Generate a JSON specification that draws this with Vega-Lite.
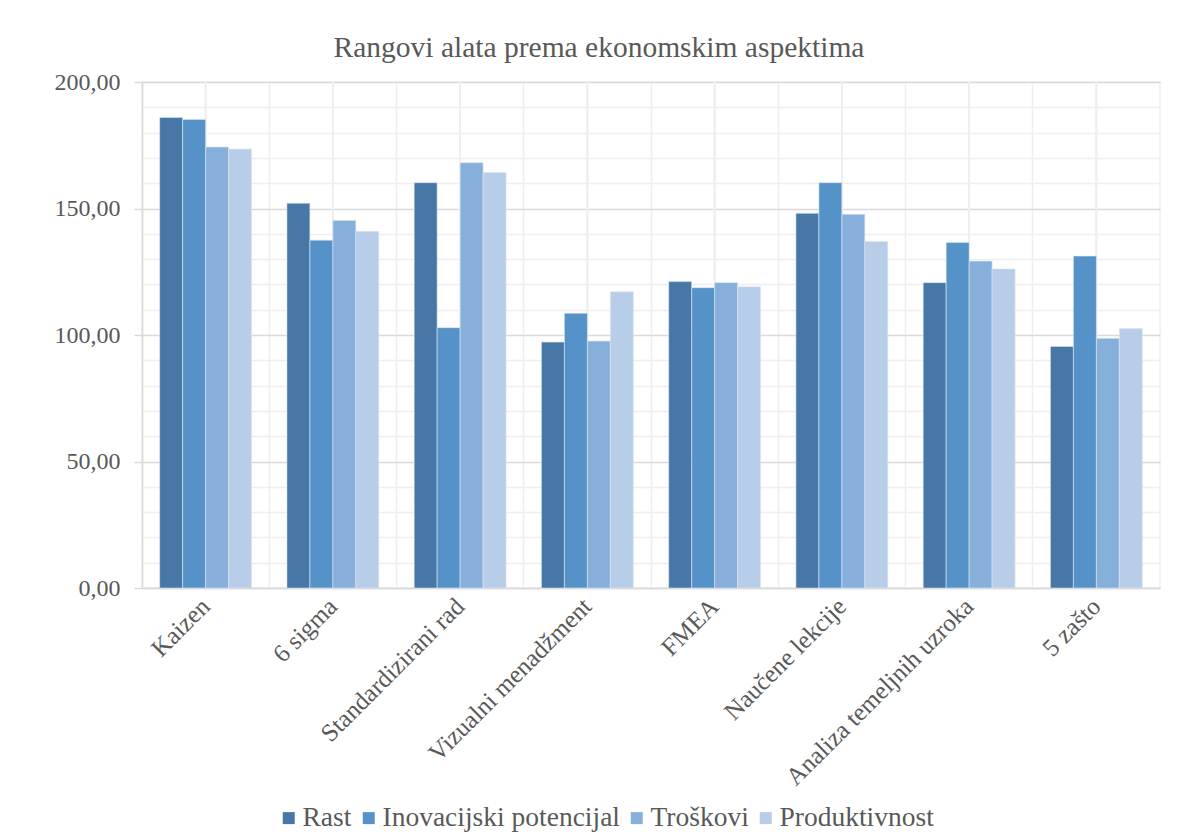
{
  "$schema": "https://vega.github.io/schema/vega-lite/v6.json",
  "width": 1018,
  "height": 506,
  "autosize": {"type": "none"},
  "padding": {"left": 142, "top": 82, "right": 19, "bottom": 251},
  "background": "white",
  "title": {
    "text": "Rangovi alata prema ekonomskim aspektima",
    "font": "Liberation Serif",
    "fontSize": 29.5,
    "fontWeight": "normal",
    "color": "#595959",
    "anchor": "middle",
    "dx": -52,
    "offset": 7
  },
  "data": {
    "values": [
      {"alat": "Kaizen", "aspekt": "Rast", "v": 186.0},
      {"alat": "Kaizen", "aspekt": "Inovacijski potencijal", "v": 185.2},
      {"alat": "Kaizen", "aspekt": "Troškovi", "v": 174.3},
      {"alat": "Kaizen", "aspekt": "Produktivnost", "v": 173.5},
      {"alat": "6 sigma", "aspekt": "Rast", "v": 152.1},
      {"alat": "6 sigma", "aspekt": "Inovacijski potencijal", "v": 137.5},
      {"alat": "6 sigma", "aspekt": "Troškovi", "v": 145.3},
      {"alat": "6 sigma", "aspekt": "Produktivnost", "v": 141.0},
      {"alat": "Standardizirani rad", "aspekt": "Rast", "v": 160.2},
      {"alat": "Standardizirani rad", "aspekt": "Inovacijski potencijal", "v": 102.9},
      {"alat": "Standardizirani rad", "aspekt": "Troškovi", "v": 168.1},
      {"alat": "Standardizirani rad", "aspekt": "Produktivnost", "v": 164.2},
      {"alat": "Vizualni menadžment", "aspekt": "Rast", "v": 97.2},
      {"alat": "Vizualni menadžment", "aspekt": "Inovacijski potencijal", "v": 108.6},
      {"alat": "Vizualni menadžment", "aspekt": "Troškovi", "v": 97.6},
      {"alat": "Vizualni menadžment", "aspekt": "Produktivnost", "v": 117.1},
      {"alat": "FMEA", "aspekt": "Rast", "v": 121.1},
      {"alat": "FMEA", "aspekt": "Inovacijski potencijal", "v": 118.7},
      {"alat": "FMEA", "aspekt": "Troškovi", "v": 120.7},
      {"alat": "FMEA", "aspekt": "Produktivnost", "v": 119.1},
      {"alat": "Naučene lekcije", "aspekt": "Rast", "v": 148.1},
      {"alat": "Naučene lekcije", "aspekt": "Inovacijski potencijal", "v": 160.2},
      {"alat": "Naučene lekcije", "aspekt": "Troškovi", "v": 147.7},
      {"alat": "Naučene lekcije", "aspekt": "Produktivnost", "v": 137.0},
      {"alat": "Analiza temeljnih uzroka", "aspekt": "Rast", "v": 120.7},
      {"alat": "Analiza temeljnih uzroka", "aspekt": "Inovacijski potencijal", "v": 136.6},
      {"alat": "Analiza temeljnih uzroka", "aspekt": "Troškovi", "v": 129.2},
      {"alat": "Analiza temeljnih uzroka", "aspekt": "Produktivnost", "v": 126.1},
      {"alat": "5 zašto", "aspekt": "Rast", "v": 95.5},
      {"alat": "5 zašto", "aspekt": "Inovacijski potencijal", "v": 131.2},
      {"alat": "5 zašto", "aspekt": "Troškovi", "v": 98.7},
      {"alat": "5 zašto", "aspekt": "Produktivnost", "v": 102.6}
    ]
  },
  "layer": [
    {
      "mark": {"type": "rule", "color": "#efefef", "strokeWidth": 1.5},
      "encoding": {
        "x": {"field": "alat", "type": "nominal", "sort": null}
      }
    },
    {
      "mark": {"type": "bar", "stroke": "#dce6f2", "strokeWidth": 0.6},
      "encoding": {
        "x": {
          "field": "alat",
          "type": "nominal",
          "sort": null,
          "scale": {"paddingInner": 0, "paddingOuter": 0},
          "axis": {
            "title": null,
            "labelAngle": -45,
            "labelAlign": "right",
            "labelBaseline": "middle",
            "labelFont": "Liberation Serif",
            "labelFontSize": 25,
            "labelColor": "#595959",
            "labelPadding": 14,
            "ticks": false,
            "domain": true,
            "domainColor": "#d9d9d9",
            "domainWidth": 1.5,
            "grid": true,
            "gridColor": "#efefef",
            "gridWidth": 1.5,
            "bandPosition": 0,
            "labelOverlap": false,
            "labelLimit": 0
          }
        },
        "xOffset": {
          "field": "aspekt",
          "type": "nominal",
          "sort": ["Rast", "Inovacijski potencijal", "Troškovi", "Produktivnost"],
          "scale": {"paddingInner": 0, "paddingOuter": 0.77}
        },
        "y": {
          "field": "v",
          "type": "quantitative",
          "scale": {"domain": [0, 200], "nice": false},
          "axis": {
            "title": null,
            "values": [0, 10, 20, 30, 40, 50, 60, 70, 80, 90, 100, 110, 120, 130, 140, 150, 160, 170, 180, 190, 200],
            "labelExpr": "datum.value % 50 === 0 ? replace(format(datum.value, '.2f'), '.', ',') : ''",
            "labelFont": "Liberation Serif",
            "labelFontSize": 24,
            "labelColor": "#595959",
            "labelPadding": 14,
            "labelOverlap": false,
            "tickSize": 8,
            "tickColor": {"condition": {"test": "datum.value % 50 === 0", "value": "#d9d9d9"}, "value": "transparent"},
            "tickWidth": 1.5,
            "domain": true,
            "domainColor": "#d9d9d9",
            "domainWidth": 1.5,
            "grid": true,
            "gridColor": {"condition": {"test": "datum.value % 50 === 0", "value": "#d9d9d9"}, "value": "#efefef"},
            "gridWidth": 1.5
          }
        },
        "color": {
          "field": "aspekt",
          "type": "nominal",
          "sort": ["Rast", "Inovacijski potencijal", "Troškovi", "Produktivnost"],
          "scale": {
            "domain": ["Rast", "Inovacijski potencijal", "Troškovi", "Produktivnost"],
            "range": ["#4677a7", "#5592c8", "#87afdb", "#b8cde8"]
          },
          "legend": {
            "title": null,
            "orient": "none",
            "direction": "horizontal",
            "legendX": 133,
            "legendY": 722,
            "symbolType": "square",
            "symbolSize": 144,
            "symbolStrokeWidth": 0,
            "labelFont": "Liberation Serif",
            "labelFontSize": 27.5,
            "labelColor": "#595959",
            "labelOffset": 0,
            "columnPadding": 3,
            "labelLimit": 0
          }
        }
      }
    }
  ],
  "config": {
    "view": {"stroke": "#efefef", "strokeWidth": 1.5}
  }
}
